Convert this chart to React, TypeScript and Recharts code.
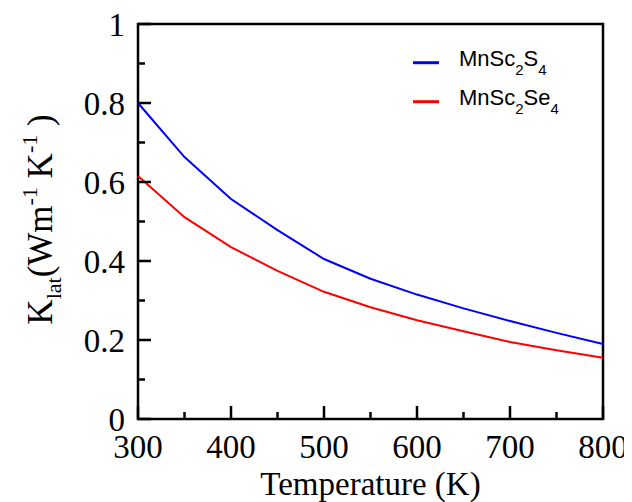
import React from "react";
import { LineChart, Line, XAxis, YAxis, Legend, ReferenceArea } from "recharts";

const temperatures = [300, 350, 400, 450, 500, 550, 600, 650, 700, 750, 800];
const mnSc2S4 = [0.8, 0.663, 0.557, 0.478, 0.405, 0.355, 0.315, 0.28, 0.248, 0.218, 0.19];
const mnSc2Se4 = [0.615, 0.511, 0.435, 0.375, 0.322, 0.283, 0.25, 0.222, 0.195, 0.174, 0.155];
const xTicks = [300, 350, 400, 450, 500, 550, 600, 650, 700, 750, 800];
const yTicks = [0, 0.1, 0.2, 0.3, 0.4, 0.5, 0.6, 0.7, 0.8, 0.9, 1];
const seriesNames = ["MnSc2S4", "MnSc2Se4"];
const seriesColors = ["#0000ff", "#ff0000"];

const data = temperatures.map((T, i) => ({ T, s: mnSc2S4[i], se: mnSc2Se4[i] }));

const SERIF = '"Liberation Serif", "Times New Roman", serif';
const SANS = '"Liberation Sans", Arial, sans-serif';

const XTick = (props: any) => {
  const { x, y, payload } = props;
  const v = payload.value;
  const major = v % 100 === 0;
  const len = major ? 13 : 7;
  return (
    <g>
      <path d={`M${x},${y}L${x},${y - len}`} stroke="#000" strokeWidth={2.5} fill="none" />
      {major && (
        <text x={x} y={y + 39} textAnchor="middle" fontFamily={SERIF} fontSize={33} fill="#000">
          {v}
        </text>
      )}
    </g>
  );
};

const YTick = (props: any) => {
  const { x, y, payload } = props;
  const v = payload.value;
  const major = Math.round(v * 10) % 2 === 0;
  const len = major ? 13 : 7;
  return (
    <g>
      <path d={`M${x},${y}L${x + len},${y}`} stroke="#000" strokeWidth={2.5} fill="none" />
      {major && (
        <text x={x - 13} y={y + 12} textAnchor="end" fontFamily={SERIF} fontSize={33} fill="#000">
          {String(v)}
        </text>
      )}
    </g>
  );
};

const XTitle = (props: any) => {
  const vb = props.viewBox || {};
  return (
    <text x={vb.x + vb.width / 2} y={vb.y + 76} textAnchor="middle" fontFamily={SERIF} fontSize={33} fill="#000">
      Temperature (K)
    </text>
  );
};

const YTitle = (props: any) => {
  const vb = props.viewBox || {};
  const cx = 44;
  const cy = vb.y + vb.height / 2 - 2;
  return (
    <text
      x={cx}
      y={cy}
      transform={`rotate(-90, ${cx}, ${cy})`}
      textAnchor="middle"
      fontFamily={SERIF}
      fontSize={35}
      fill="#000"
    >
      K
      <tspan dy={9} fontSize={22}>lat</tspan>
      <tspan dy={-9}>(Wm</tspan>
      <tspan dy={-15} fontSize={22}>-1</tspan>
      <tspan dy={15}> K</tspan>
      <tspan dy={-15} fontSize={22}>-1</tspan>
      <tspan dy={15}> )</tspan>
    </text>
  );
};

const renderName = (name: string) => {
  const parts: { t: string; sub: boolean }[] = [];
  for (const ch of name) {
    const sub = /[0-9]/.test(ch);
    const last = parts[parts.length - 1];
    if (last && last.sub === sub) last.t += ch;
    else parts.push({ t: ch, sub });
  }
  let prevSub = false;
  return parts.map((p, i) => {
    const dy = p.sub === prevSub ? 0 : p.sub ? 9 : -9;
    prevSub = p.sub;
    return (
      <tspan key={i} dy={dy} fontSize={p.sub ? 15 : 22}>
        {p.t}
      </tspan>
    );
  });
};

const LegendContent = (props: any) => {
  const payload = props.payload || [];
  return (
    <svg width={200} height={90} style={{ display: "block", overflow: "visible" }}>
      {payload.map((entry: any, i: number) => (
        <g key={i}>
          <line x1={1} x2={27} y1={12.7 + 39 * i} y2={12.7 + 39 * i} stroke={entry.color} strokeWidth={3} />
          <text x={47} y={16 + 39 * i} fontFamily={SANS} fontSize={22} fill="#000">
            {renderName(entry.value)}
          </text>
        </g>
      ))}
    </svg>
  );
};

export default function App() {
  return (
    <LineChart width={624} height={494} data={data} margin={{ top: 16, right: 29, bottom: 0, left: 0 }}>
      <XAxis
        dataKey="T"
        type="number"
        domain={[300, 800]}
        ticks={xTicks}
        interval={0}
        tickSize={0}
        tickMargin={0}
        tickLine={false}
        tick={<XTick />}
        height={83}
        axisLine={false}
        label={<XTitle />}
      />
      <YAxis
        type="number"
        domain={[0, 1]}
        ticks={yTicks}
        interval={0}
        tickSize={0}
        tickMargin={0}
        tickLine={false}
        tick={<YTick />}
        width={130}
        axisLine={false}
        label={<YTitle />}
      />
      <ReferenceArea
        x1={300}
        x2={800}
        y1={0}
        y2={1}
        fill="none"
        fillOpacity={0}
        stroke="#000"
        strokeWidth={2.5}
      />
      <Legend
        layout="vertical"
        align="center"
        verticalAlign="middle"
        content={<LegendContent />}
        wrapperStyle={{ position: "absolute", left: 404, top: 42, width: 200, height: 90 }}
      />
      <Line
        type="linear"
        dataKey="s"
        name={seriesNames[0]}
        stroke={seriesColors[0]}
        strokeWidth={2}
        dot={false}
        isAnimationActive={false}
      />
      <Line
        type="linear"
        dataKey="se"
        name={seriesNames[1]}
        stroke={seriesColors[1]}
        strokeWidth={2}
        dot={false}
        isAnimationActive={false}
      />
    </LineChart>
  );
}
